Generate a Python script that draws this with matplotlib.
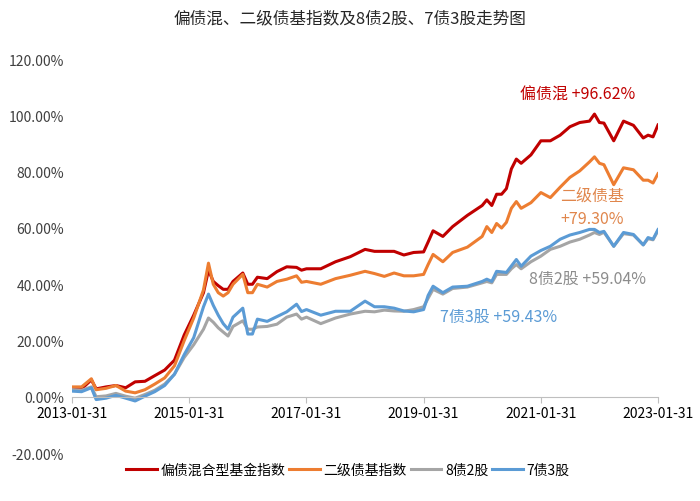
import matplotlib as mpl
mpl.use('Agg')
import matplotlib.pyplot as plt
import pandas as pd

plt.rcParams['font.family'] = ['Noto Sans CJK SC', 'DejaVu Sans']

# months since 2013-01-31
months = [0, 2, 4, 5, 7, 9, 11, 13, 15, 17, 19, 21, 23, 25, 27, 28, 29, 30, 31, 32,
          33, 35, 36, 37, 38, 40, 42, 44, 46, 47, 48, 51, 54, 57, 60, 62, 64, 66, 68, 70,
          72, 73, 74, 76, 78, 81, 84, 85, 86, 87, 88, 89, 90, 91, 92, 94, 96, 98, 100, 102,
          104, 106, 107, 108, 109, 111, 113, 115, 117, 118, 119, 120]

hybrid = [2.5, 2.8, 6.0, 2.8, 3.5, 4.0, 3.2, 5.3, 5.5, 7.5, 9.5, 13, 22, 29, 37, 45, 41, 39.5, 38.2, 38.2,
          41, 44, 40, 40, 42.5, 42, 44.5, 46.2, 46, 45, 45.5, 45.5, 48, 49.8, 52.4, 51.7, 51.7, 51.7, 50.4, 51.3,
          51.5, 55, 59, 57, 60.5, 64.5, 68, 70, 68, 72, 72, 74, 81, 84.5, 83, 86, 91, 91, 93, 96,
          97.5, 98, 100.5, 97.5, 97.3, 91, 98, 96.5, 92, 93, 92.4, 96.62]

secondary = [3.5, 3.5, 6.4, 2.5, 3.0, 4.0, 2.0, 1.4, 2.5, 4.5, 6.7, 11, 20, 28, 38, 47.5, 40, 37, 35.8, 37,
             40, 43.5, 37, 37, 40, 39, 41, 41.8, 43, 40.7, 41, 40, 42, 43.2, 44.6, 43.8, 42.8, 44, 43, 43,
             43.5, 47, 50.6, 48, 51.3, 53.2, 57, 60.5, 58.4, 61.6, 60, 62, 67, 69.4, 67, 69, 72.6, 70.8, 74.5, 78,
             80.3, 83.5, 85.3, 83, 82.5, 75.4, 81.4, 80.7, 77, 77, 76, 79.30]

b8s2 = [2.5, 2.3, 3.5, 0, 0.3, 1.2, 0.2, -0.5, 0.8, 2.3, 4.5, 8, 14, 18.5, 24, 28, 26.5, 24.5, 23, 21.6,
        25, 27, 24, 24, 24.8, 25, 25.8, 28.3, 29.4, 27.6, 28.3, 26, 28, 29.4, 30.4, 30.2, 30.8, 30.5, 30.4, 31,
        32, 35, 38.2, 36.5, 38.5, 39, 40.5, 41, 40.5, 43.5, 43.5, 43.5, 45.5, 47, 45.5, 48, 50, 52.4, 53.5, 55,
        56, 57.5, 58.4, 57.7, 58.5, 53.5, 58, 57.5, 54, 56.2, 55.8, 59.04]

b7s3 = [2.0, 1.8, 3.2, -1.0, -0.5, 0.5, -0.5, -1.5, 0.2, 1.8, 4.0, 8, 15, 21, 32, 36.5, 32.5, 29, 26, 24,
        28.3, 31.5, 22.3, 22.3, 27.6, 26.8, 28.5, 30.2, 32.9, 30.3, 31, 29, 30.4, 30.4, 34, 32, 32, 31.5, 30.5, 30.2,
        31, 36, 39.3, 37, 39, 39.3, 41, 41.8, 41, 44.6, 44.4, 44.2, 46.5, 48.8, 46.4, 50, 52, 53.5, 56, 57.5,
        58.4, 59.5, 59.5, 58.4, 58.8, 53.5, 58.4, 57.7, 54, 56.6, 56, 59.43]

labels = ['偏债混合型基金指数', '二级债基指数', '8债2股', '7债3股']
colors = ['#C00000', '#ED7D31', '#A5A5A5', '#5B9BD5']

start = pd.Timestamp('2013-01-31')
dates = [start + pd.offsets.MonthEnd(m) for m in months]

fig = plt.figure(figsize=(7, 5.02), dpi=100)
ax = fig.add_axes([0.103, 0.0956, 0.837, 0.7844])

for ys, lab, c in zip([hybrid, secondary, b8s2, b7s3], labels, colors):
    ax.plot(dates, ys, color=c, lw=2.2, label=lab)

ax.set_ylim(-20, 120)
ax.set_xlim(pd.Timestamp('2013-01-31'), pd.Timestamp('2023-01-31'))
ax.set_yticks(range(-20, 121, 20))
ax.set_yticklabels(['%.2f%%' % v for v in range(-20, 121, 20)], fontsize=10, color='#404040')
xt = [pd.Timestamp('%d-01-31' % y) for y in range(2013, 2024, 2)]
ax.set_xticks(xt)
ax.set_xticklabels([t.strftime('%Y-%m-%d') for t in xt], fontsize=10, color='#404040')

for s in ['top', 'right', 'left']:
    ax.spines[s].set_visible(False)
ax.spines['bottom'].set_position(('data', 0))
ax.spines['bottom'].set_color('#BFBFBF')
ax.tick_params(axis='y', length=0, pad=6)
ax.tick_params(axis='x', length=4, color='#BFBFBF', pad=3)

fig.text(0.5, 0.962, '偏债混、二级债基指数及8债2股、7债3股走势图', ha='center', va='center',
         fontsize=12, color='#262626', fontweight='medium')

ax.text(pd.Timestamp('2021-09-15'), 107.5, '偏债混 +96.62%', color='#C00000', fontsize=11.5, ha='center', va='center')
ax.text(pd.Timestamp('2021-12-15'), 71.5, '二级债基', color='#E0864C', fontsize=11.5, ha='center', va='center')
ax.text(pd.Timestamp('2021-12-15'), 63.5, '+79.30%', color='#E0864C', fontsize=11.5, ha='center', va='center')
ax.text(pd.Timestamp('2021-11-15'), 42, '8债2股 +59.04%', color='#8C8C8C', fontsize=11.5, ha='center', va='center')
ax.text(pd.Timestamp('2020-05-15'), 28.5, '7债3股 +59.43%', color='#5B9BD5', fontsize=11.5, ha='center', va='center')

fig.legend(loc='center', bbox_to_anchor=(0.497, 0.063), ncol=4, frameon=False, fontsize=10,
           handlelength=2.2, handletextpad=0.25, columnspacing=0.3)

plt.savefig('out.png', dpi=100)
plt.close()
